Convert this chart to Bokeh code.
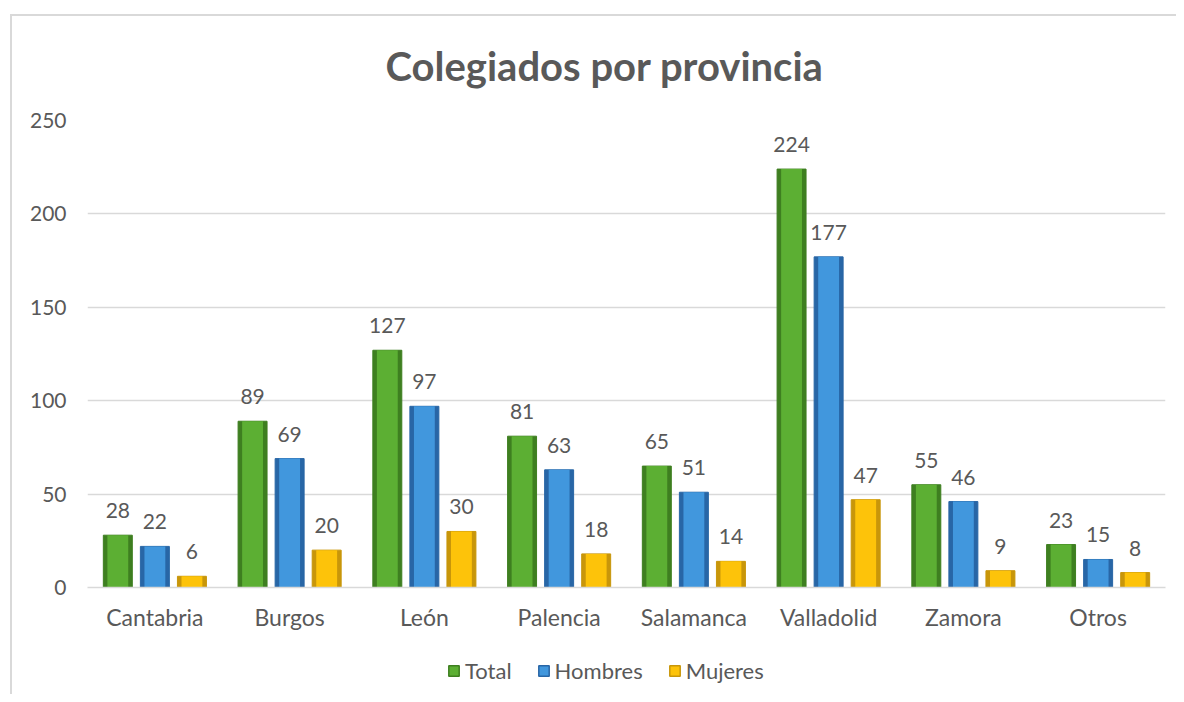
from bokeh.plotting import figure
from bokeh.layouts import column, row
from bokeh.models import (ColumnDataSource, FactorRange, Range1d, LabelSet,
                          Legend, LegendItem, Spacer, Label)
from bokeh.transform import dodge
from bokeh.core.properties import value
from bokeh.embed import file_html
from bokeh.resources import INLINE

# ---- data ----
provincias = ["Cantabria", "Burgos", "León", "Palencia", "Salamanca",
              "Valladolid", "Zamora", "Otros"]
total = [28, 89, 127, 81, 65, 224, 55, 23]
hombres = [22, 69, 97, 63, 51, 177, 46, 15]
mujeres = [6, 20, 30, 18, 14, 47, 9, 8]
series = ["Total", "Hombres", "Mujeres"]
y_ticks = [0, 50, 100, 150, 200, 250]
titulo = "Colegiados por provincia"

FONT = "Lato"
TXT = "#595959"

source = ColumnDataSource(dict(
    prov=provincias, Total=total, Hombres=hombres, Mujeres=mujeres,
    Total_s=[str(v) for v in total],
    Hombres_s=[str(v) for v in hombres],
    Mujeres_s=[str(v) for v in mujeres],
))

W = 1164


def strip(h):
    f = figure(width=W, height=h, x_range=Range1d(0, 1), y_range=Range1d(0, 1),
               output_backend="svg", toolbar_location=None,
               min_border=0, min_border_left=0, min_border_right=0,
               min_border_top=0, min_border_bottom=0)
    f.outline_line_color = None
    f.axis.visible = False
    f.grid.grid_line_color = None
    return f


# title strip
tf = strip(80)
tf.add_layout(Label(x=298, y=31, x_units="screen", y_units="screen",
                    text=titulo, text_align="left", text_baseline="middle",
                    text_font=FONT, text_font_size="40px",
                    text_font_style="bold", text_color=TXT))

p = figure(x_range=FactorRange(*provincias, range_padding=0),
           y_range=Range1d(0, 250),
           width=W, height=546,
           output_backend="svg", toolbar_location=None,
           min_border_left=75, min_border_right=11,
           min_border_top=24, min_border_bottom=55)
p.outline_line_color = None
p.background_fill_color = "white"
p.border_fill_color = "white"

outer = ["#3E7F20", "#2866A6", "#C8960A"]
inner = ["#5CAF33", "#4197DD", "#FDC30A"]
offsets = [-0.275, 0.0, 0.275]
bar_w = 0.215

for s, off, oc, ic in zip(series, offsets, outer, inner):
    xd = dodge("prov", off, range=p.x_range)
    p.vbar(x=xd, top=s, width=bar_w, source=source,
           fill_color=oc, line_color=oc, line_width=1)
    p.vbar(x=xd, top=s, width=bar_w * 0.72, source=source,
           fill_color=ic, line_color=None)
    lbl = LabelSet(x=xd, y=s, text=s + "_s", source=source,
                   y_offset=17, text_align="center", text_baseline="bottom",
                   text_font=value(FONT), text_font_size="21px",
                   text_color=TXT)
    p.add_layout(lbl)

# axes
p.yaxis.ticker = y_ticks
p.yaxis.axis_line_color = None
p.yaxis.major_tick_line_color = None
p.yaxis.minor_tick_line_color = None
p.yaxis.major_label_standoff = 15
p.yaxis.major_label_text_font = FONT
p.yaxis.major_label_text_font_size = "21px"
p.yaxis.major_label_text_color = TXT

p.xaxis.axis_line_color = "#d9d9d9"
p.xaxis.axis_line_width = 1.5
p.xaxis.major_tick_line_color = None
p.xaxis.minor_tick_line_color = None
p.xaxis.major_label_standoff = 9
p.xaxis.major_label_text_font = FONT
p.xaxis.major_label_text_font_size = "23px"
p.xaxis.major_label_text_color = TXT

p.xgrid.grid_line_color = None
p.ygrid.grid_line_color = "#d9d9d9"
p.ygrid.grid_line_width = 1.5

# legend strip
lf = strip(52)
swatch = ColumnDataSource(dict(x=[0.5], top=[float("nan")]))
leg_r = []
for s, oc, ic in zip(series, outer, inner):
    leg_r.append(lf.vbar(x="x", top="top", width=0.01, source=swatch,
                         fill_color=ic, line_color=oc, line_width=1.5))
legend = Legend(items=[LegendItem(label=s, renderers=[r])
                       for s, r in zip(series, leg_r)],
                orientation="horizontal", location=(360, 10),
                border_line_color=None, background_fill_alpha=0,
                padding=0, margin=0, spacing=25, label_standoff=5,
                glyph_width=13, glyph_height=13,
                label_text_font=FONT, label_text_font_size="22px",
                label_text_color=TXT)
lf.add_layout(legend)

box = column(tf, p, lf, spacing=0)
box.styles = {"border-top": "2px solid #d9d9d9",
              "border-left": "2px solid #d9d9d9"}
layout = row(Spacer(width=10), column(Spacer(height=14), box, spacing=0),
             spacing=0)

open("out.html", "w").write(file_html(layout, INLINE))
